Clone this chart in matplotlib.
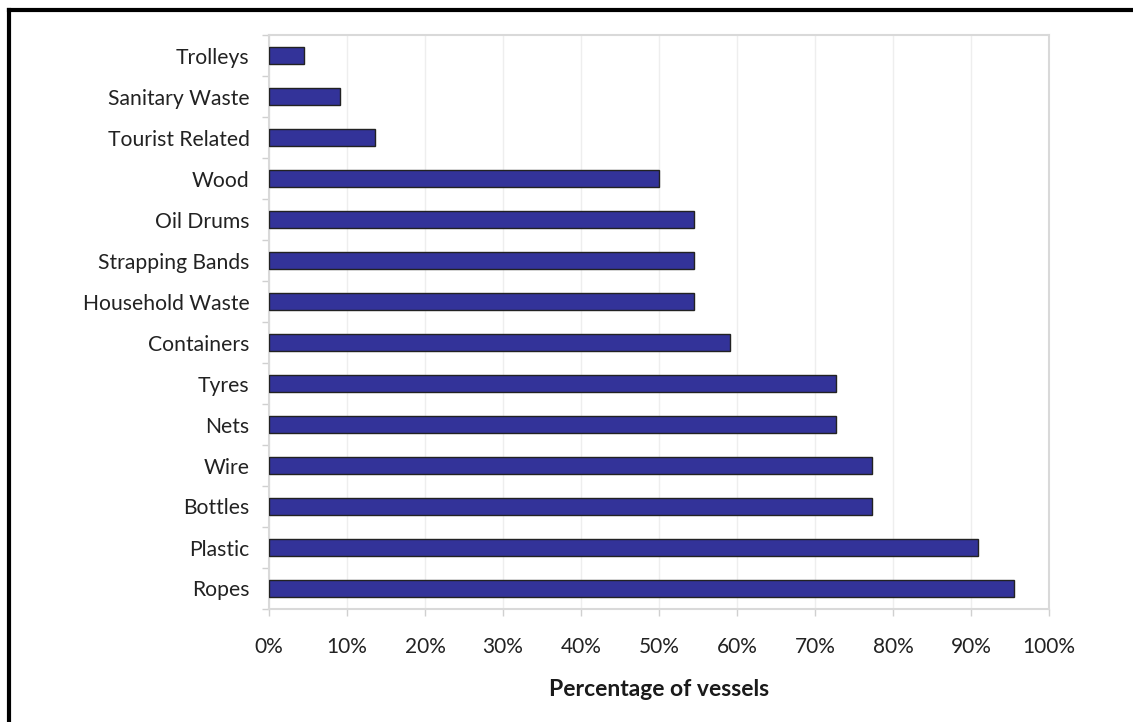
import matplotlib
matplotlib.use("Agg")
import matplotlib.pyplot as plt
import numpy as np
from matplotlib.ticker import FixedLocator, PercentFormatter

categories = ["Trolleys", "Sanitary Waste", "Tourist Related", "Wood", "Oil Drums",
              "Strapping Bands", "Household Waste", "Containers", "Tyres", "Nets",
              "Wire", "Bottles", "Plastic", "Ropes"]
values = [4.55, 9.09, 13.64, 50.0, 54.55, 54.55, 54.55, 59.09, 72.73, 72.73,
          77.27, 77.27, 90.91, 95.45]
xticks = [0, 10, 20, 30, 40, 50, 60, 70, 80, 90, 100]

plt.rcParams['font.family'] = ['Lato', 'DejaVu Sans']

fig = plt.figure(figsize=(11.33, 7.22), dpi=100)
ax = fig.add_axes([269/1133, 1-609/722, (1049-269)/1133, (609-35)/722])

n = len(categories)
ypos = np.arange(n)
ax.barh(ypos, values, height=0.40, color="#333399", edgecolor="#222222", linewidth=1.0, zorder=3)
ax.set_ylim(n - 0.5, -0.5)
ax.set_xlim(0, 100)

ax.set_yticks(ypos)
ax.set_yticklabels(categories, fontsize=15.2, color="#222222")
ax.yaxis.set_minor_locator(FixedLocator(np.arange(-0.5, n, 1.0)))
ax.tick_params(axis='y', which='major', length=0, pad=14)
ax.tick_params(axis='y', which='minor', length=5, color="#d0d0d0", width=1)

ax.set_xticks(xticks)
ax.xaxis.set_major_formatter(PercentFormatter(decimals=0))
ax.tick_params(axis='x', which='major', length=5, color="#d0d0d0", width=1, labelsize=15,
               labelcolor="#222222", pad=15)
ax.grid(axis='x', color="#eeeeee", linewidth=1, zorder=0)
ax.set_axisbelow(True)

for s in ax.spines.values():
    s.set_color("#d9d9d9")
    s.set_linewidth(1.5)

ax.set_xlabel("Percentage of vessels", fontsize=16.5, fontweight='bold', color="#1a1a1a", labelpad=16)

# outer frame (top and left visible)
fig.add_artist(plt.Line2D([9/1133, 9/1133], [0, 1-10/722], transform=fig.transFigure, color="black", linewidth=3))
fig.add_artist(plt.Line2D([9/1133, 1], [1-10/722, 1-10/722], transform=fig.transFigure, color="black", linewidth=3))

fig.savefig("out.png", dpi=100)
